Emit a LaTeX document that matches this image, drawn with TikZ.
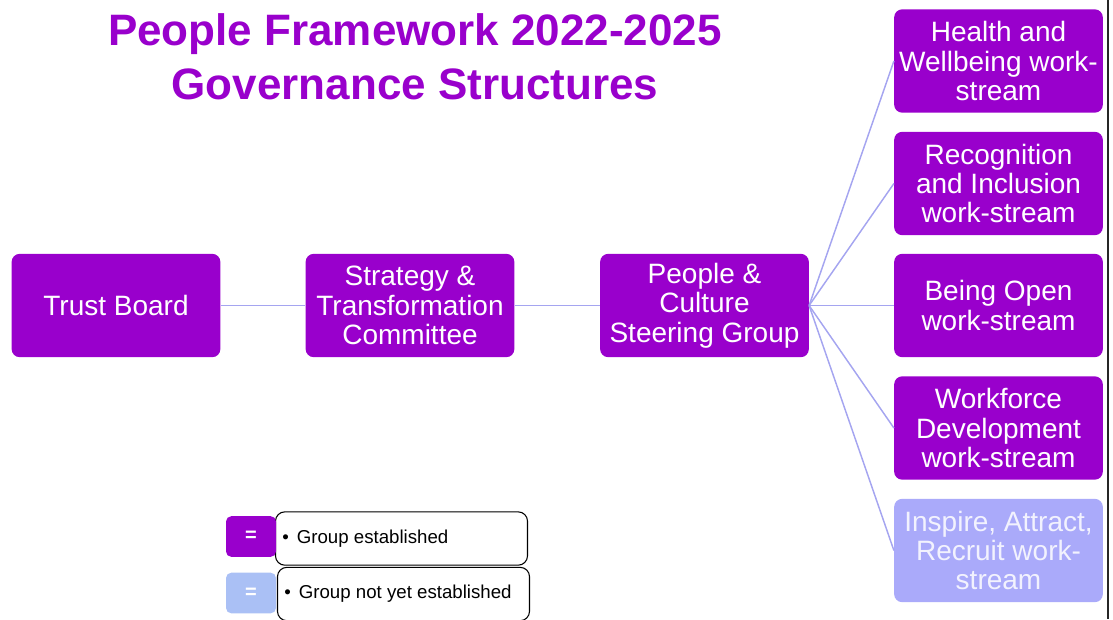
\documentclass[tikz,border=0pt]{standalone}
\usepackage{fontspec}
\setmainfont{Liberation Sans}
\definecolor{groupviolet}{RGB}{153,0,204}
\definecolor{pendingviolet}{RGB}{170,170,250}
\definecolor{keyblue}{RGB}{170,192,245}
\definecolor{linkblue}{RGB}{165,165,240}

\begin{document}
\begin{tikzpicture}[x=0.75pt,y=-0.75pt,
    group/.style={fill=groupviolet, text=white, rounded corners=6pt,
      minimum width=156.5pt, minimum height=77.5pt, inner sep=1pt,
      align=center, font=\fontsize{21}{22.1}\selectfont},
    pending/.style={group, fill=pendingviolet, text=white!85!pendingviolet},
    link/.style={draw=linkblue, line width=1.1pt},
    keysquare/.style={rounded corners=4pt, minimum width=37.5pt,
      minimum height=30.5pt, text=white, font=\fontsize{15}{16}\selectfont\bfseries},
    keyframe/.style={draw=black, fill=white, rounded corners=7pt,
      minimum width=189pt, minimum height=40pt, line width=0.8pt},
    keylabel/.style={font=\fontsize{14}{16}\selectfont, anchor=west}]
  \useasboundingbox (0,0) rectangle (1113,619);
  \clip (0,0) rectangle (1113,619);

  % title
  \node[text=groupviolet, font=\fontsize{33}{36}\selectfont\bfseries, anchor=base]
    (title) at (415,45) {People Framework 2022-2025};
  \node[text=groupviolet, font=\fontsize{33}{36}\selectfont\bfseries, anchor=base]
    (subtitle) at (415,99) {Governance Structures};

  % main chain
  \node[group] (board) at (116,305.5) {Trust Board};
  \node[group] (strategy) at (410,305.5) {Strategy \&\\Transformation\\Committee};
  \node[group] (steering) at (704.5,305.5) {People \&\\Culture\\Steering Group};

  % work-streams
  \node[group] (health) at (998.5,61) {Health and\\Wellbeing work-\\stream};
  \node[group] (recognition) at (998.5,183.5) {Recognition\\and Inclusion\\work-stream};
  \node[group] (open) at (998.5,305.5) {Being Open\\work-stream};
  \node[group] (workforce) at (998.5,428) {Workforce\\Development\\work-stream};
  \node[pending] (inspire) at (998.5,550.5) {Inspire, Attract,\\Recruit work-\\stream};

  \draw[link] (board) -- (strategy);
  \draw[link] (strategy) -- (steering);
  \foreach \ws in {health,recognition,open,workforce,inspire}
    \draw[link] (steering.east) -- (\ws.west);

  % key
  \node[keyframe] (estframe) at (401.5,538.5) {};
  \node[keyframe] (notframe) at (403.5,594) {};
  \node[keysquare, fill=groupviolet] (estkey) at (251,536.5) {=};
  \node[keysquare, fill=keyblue] (notkey) at (251,593) {=};
  \node[keylabel] (estlabel) at ([xshift=2pt]estframe.west) {\textbullet\hspace{6pt}Group established};
  \node[keylabel] (notlabel) at ([xshift=2pt]notframe.west) {\textbullet\hspace{6pt}Group not yet established};

  % right edge
  \draw[black!85, line width=1.6pt] (1108,0) -- (1108,619);
\end{tikzpicture}
\end{document}
